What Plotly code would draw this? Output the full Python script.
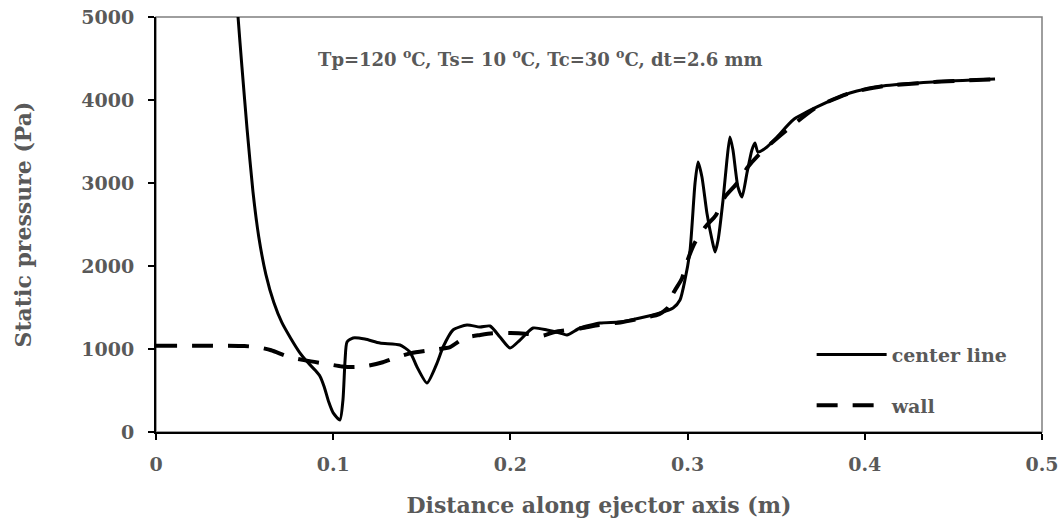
import plotly.graph_objects as go

# Center line (solid)
center_x = [0.0455, 0.0463, 0.0485, 0.0514, 0.0547, 0.0580, 0.0620, 0.0665, 0.0710, 0.0760,
            0.0810, 0.0860, 0.0900, 0.0926, 0.0950, 0.0975, 0.1000, 0.1038, 0.1055, 0.1067,
            0.1078, 0.1112,
            0.1179, 0.1264, 0.1377, 0.1433, 0.1473, 0.1529, 0.1586, 0.1620, 0.1676, 0.1755,
            0.1828, 0.1885, 0.1941, 0.1998, 0.2054, 0.2128, 0.2207, 0.2280, 0.2319, 0.2393,
            0.2506, 0.2619, 0.2731, 0.2844, 0.2918, 0.2957, 0.2985, 0.3014, 0.3042, 0.3059,
            0.3081, 0.3109, 0.3138, 0.3155, 0.3172, 0.3200, 0.3222, 0.3239, 0.3256, 0.3284,
            0.3307, 0.3335, 0.3363, 0.3380, 0.3397, 0.3448, 0.3505, 0.3595, 0.3730, 0.3916,
            0.4103, 0.4385, 0.4735]
center_y = [5300, 5000, 4400, 3650, 2900, 2350, 1900, 1560, 1320, 1130,
            960, 830, 740, 670, 540, 360, 230, 145, 385, 867,
            1084, 1133,
            1120, 1072, 1048, 964, 783, 590, 831, 1024, 1229, 1289,
            1265, 1277, 1145, 1012, 1108, 1253, 1229, 1193, 1169, 1253,
            1313, 1325, 1373, 1434, 1494, 1590, 1831, 2193, 3000, 3253,
            3072, 2639, 2313, 2169, 2313, 2795, 3277, 3554, 3398, 2952,
            2831, 3120, 3398, 3482, 3373, 3434, 3554, 3759, 3916, 4084,
            4169, 4217, 4253]

# Wall (dashed)
wall_x = [0.0, 0.03, 0.05, 0.058, 0.065, 0.075, 0.085, 0.095, 0.105, 0.112,
          0.12, 0.128, 0.136, 0.144, 0.156, 0.166, 0.174, 0.183, 0.19, 0.20,
          0.21, 0.218, 0.225, 0.24, 0.25, 0.262, 0.273, 0.284, 0.289, 0.292,
          0.2968, 0.30, 0.304, 0.31, 0.316, 0.321, 0.328, 0.334, 0.34, 0.348,
          0.356, 0.373, 0.3916, 0.41, 0.4385, 0.4735]
wall_y = [1040, 1040, 1035, 1020, 985, 905, 860, 825, 790, 783,
          800, 840, 900, 950, 990, 1024, 1133, 1169, 1190, 1193,
          1180, 1160, 1205, 1250, 1290, 1320, 1365, 1420, 1500, 1675,
          1850, 2070, 2277, 2470, 2614, 2831, 3000, 3193, 3337, 3494,
          3639, 3916, 4084, 4165, 4215, 4250]

x_ticks = [0, 0.1, 0.2, 0.3, 0.4, 0.5]
x_tick_labels = ["0", "0.1", "0.2", "0.3", "0.4", "0.5"]
y_ticks = [0, 1000, 2000, 3000, 4000, 5000]

title_text = "Tp=120 <sup>o</sup>C, Ts= 10 <sup>o</sup>C, Tc=30 <sup>o</sup>C, dt=2.6 mm"

FONT = "DejaVu Serif"
GRAY = "#595959"
SIZE = 19
AXT = 22

fig = go.Figure()
fig.add_trace(go.Scatter(x=center_x, y=center_y, mode="lines", name="center line",
                         legendgroup="a",
                         line=dict(color="black", width=3, shape="spline", smoothing=0.6)))
fig.add_trace(go.Scatter(x=wall_x, y=wall_y, mode="lines", name="wall",
                         legendgroup="b",
                         line=dict(color="black", width=4, dash="21px,15px",
                                   shape="spline", smoothing=0.6)))

fig.add_shape(type="rect", xref="paper", yref="paper", x0=0, y0=0, x1=1, y1=1,
              line=dict(color="#7f7f7f", width=1.5), layer="below")

fig.add_annotation(text=title_text, xref="paper", yref="paper", x=0.434, y=0.9,
                   showarrow=False, xanchor="center", yanchor="middle",
                   font=dict(family=FONT, size=18, color=GRAY, weight="bold"))

fig.update_layout(
    width=1062, height=524,
    margin=dict(l=156, r=20, t=17, b=92),
    paper_bgcolor="white", plot_bgcolor="white",
    showlegend=True,
    legend=dict(x=0.74, y=0.232, xanchor="left", yanchor="top",
                bgcolor="rgba(0,0,0,0)", tracegroupgap=23,
                font=dict(family=FONT, size=SIZE, color=GRAY, weight="bold"),
                itemwidth=70),
    xaxis=dict(range=[0, 0.5], tickvals=x_ticks, ticktext=x_tick_labels,
               automargin=False, ticklabelstandoff=8,
               showgrid=False, zeroline=False, showline=True, linecolor="black",
               linewidth=2, ticks="outside", ticklen=6, tickwidth=2, tickcolor="black",
               tickfont=dict(family=FONT, size=SIZE, color=GRAY, weight="bold"),
               title=dict(text="Distance along ejector axis (m)", standoff=24,
                          font=dict(family=FONT, size=AXT, color=GRAY, weight="bold"))),
    yaxis=dict(range=[0, 5000], tickvals=y_ticks,
               automargin=False, ticklabelstandoff=10,
               showgrid=False, zeroline=False, showline=True, linecolor="black",
               linewidth=2, ticks="outside", ticklen=6, tickwidth=2, tickcolor="black",
               tickfont=dict(family=FONT, size=SIZE, color=GRAY, weight="bold"),
               title=dict(text="Static pressure (Pa)", standoff=44,
                          font=dict(family=FONT, size=AXT, color=GRAY, weight="bold"))),
)

fig.write_html("out.html")
